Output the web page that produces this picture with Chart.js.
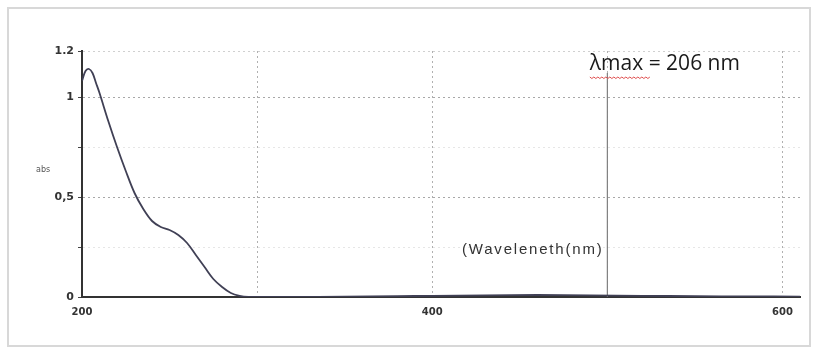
<!DOCTYPE html>
<html><head><meta charset="utf-8">
<script src="https://cdn.jsdelivr.net/npm/chart.js@4.4.1/dist/chart.umd.min.js"></script>
<style>html,body{margin:0;padding:0;background:#fff}#wrap{width:817px;height:354px;position:relative}</style>
</head><body><div id="wrap"><canvas id="c" width="817" height="354"></canvas></div>
<script>
const wavelengths = [200,202,204,206,208,210,215,220,225,230,235,240,245,250,255,260,265,270,275,280,285,290,295,300,320,350,380,400,430,460,490,520,550,580,610];
const absorbance  = [1.08,1.13,1.14,1.12,1.07,1.02,0.88,0.75,0.63,0.52,0.44,0.38,0.35,0.335,0.31,0.27,0.21,0.15,0.09,0.05,0.02,0.006,0.0,0.0,0.0,0.002,0.004,0.006,0.008,0.01,0.008,0.006,0.004,0.003,0.002];
const markerLine = [{x:500,y:0},{x:500,y:1.12}];
const xTicks = [200,300,400,500,600];
const xTickLabels = {200:'200',400:'400',600:'600'};
const yTicks = [0,0.25,0.5,0.75,1,1.23];
const yTickLabels = {0:'0',0.5:'0,5',1:'1',1.23:'1.2'};
const annotationText = 'λmax = 206 nm';
const xTitle = '(Waveleneth(nm)';
const yTitle = 'abs';

const overlay = {
  id:'overlay',
  beforeDraw(chart){
    const ctx = chart.ctx;
    ctx.save();
    ctx.fillStyle='#fff';ctx.fillRect(0,0,817,354);
    ctx.strokeStyle='#d8d8d8';ctx.lineWidth=2;
    ctx.strokeRect(8,8,802,338);
    ctx.restore();
  },
  afterDraw(chart){
    const ctx = chart.ctx, xs = chart.scales.x, ys = chart.scales.y;
    ctx.save();
    ctx.fillStyle='#1a1a1a';
    ctx.font='21px "Open Sans", sans-serif';
    ctx.textBaseline='middle';
    const sx = xs.getPixelForValue(490), ty = ys.getPixelForValue(1.165);
    ctx.fillText(annotationText, sx, ty);
    // red squiggle under λmax
    ctx.strokeStyle='#e05050';ctx.lineWidth=1;
    const sy = ty+13;
    ctx.beginPath();
    for(let i=0;i<=60;i+=2){ctx.lineTo(sx+i, sy+(i%4===0?0:1.5));}
    ctx.stroke();
    ctx.fillStyle='#333';
    ctx.font='15px "Liberation Sans", sans-serif';
    ctx.letterSpacing='1.8px';
    ctx.fillText(xTitle, xs.getPixelForValue(417), ys.getPixelForValue(0.235));
    ctx.letterSpacing='0px';
    ctx.font='8px "DejaVu Sans", sans-serif';
    ctx.fillStyle='#555';
    ctx.fillText(yTitle, 36, ys.getPixelForValue(0.635));
    ctx.restore();
  }
};

new Chart(document.getElementById('c'), {
  type:'scatter',
  data:{datasets:[
    {data: wavelengths.map((w,i)=>({x:w,y:absorbance[i]})), showLine:true, borderColor:'#404055', borderWidth:1.8, pointRadius:0, tension:0.35, fill:false},
    {data: markerLine, showLine:true, borderColor:'#808080', borderWidth:1.2, pointRadius:0}
  ]},
  options:{
    responsive:false, animation:false,
    layout:{padding:{top:51,right:17,left:0,bottom:0}},
    plugins:{legend:{display:false},tooltip:{enabled:false}},
    scales:{
      x:{type:'linear',min:200,max:610,
        afterBuildTicks(s){s.ticks = xTicks.map(v=>({value:v}));},
        afterFit(s){s.height=57;},
        ticks:{callback:v=>xTickLabels[v]||'', color:'#333', font:{size:10,weight:'bold',family:'"DejaVu Sans", sans-serif'}, padding:9, maxRotation:0, autoSkip:false},
        grid:{color:c=>c.tick&&c.tick.value===200?'rgba(0,0,0,0)':'#b0b0b0', lineWidth:1, drawTicks:false},
        border:{color:'#333', width:2, dash:[2,3]}
      },
      y:{type:'linear',min:0,max:1.23,
        afterBuildTicks(s){s.ticks = yTicks.map(v=>({value:v}));},
        afterFit(s){s.width=82;},
        ticks:{callback:v=>yTickLabels[v]||'', color:'#333', font:{size:11,weight:'bold',family:'"DejaVu Sans", sans-serif'}, padding:4, autoSkip:false},
        grid:{color:c=>{const v=c.tick&&c.tick.value; if(v===0) return 'rgba(0,0,0,0)'; if(v===0.25||v===0.75) return '#e6e6e6'; if(v===1.23) return '#d0d0d0'; return '#a8a8a8';}, lineWidth:1, drawTicks:true, tickLength:4, tickColor:'#444'},
        border:{color:'#333', width:2, dash:[2,3]}
      }
    }
  },
  plugins:[overlay]
});
</script></body></html>
